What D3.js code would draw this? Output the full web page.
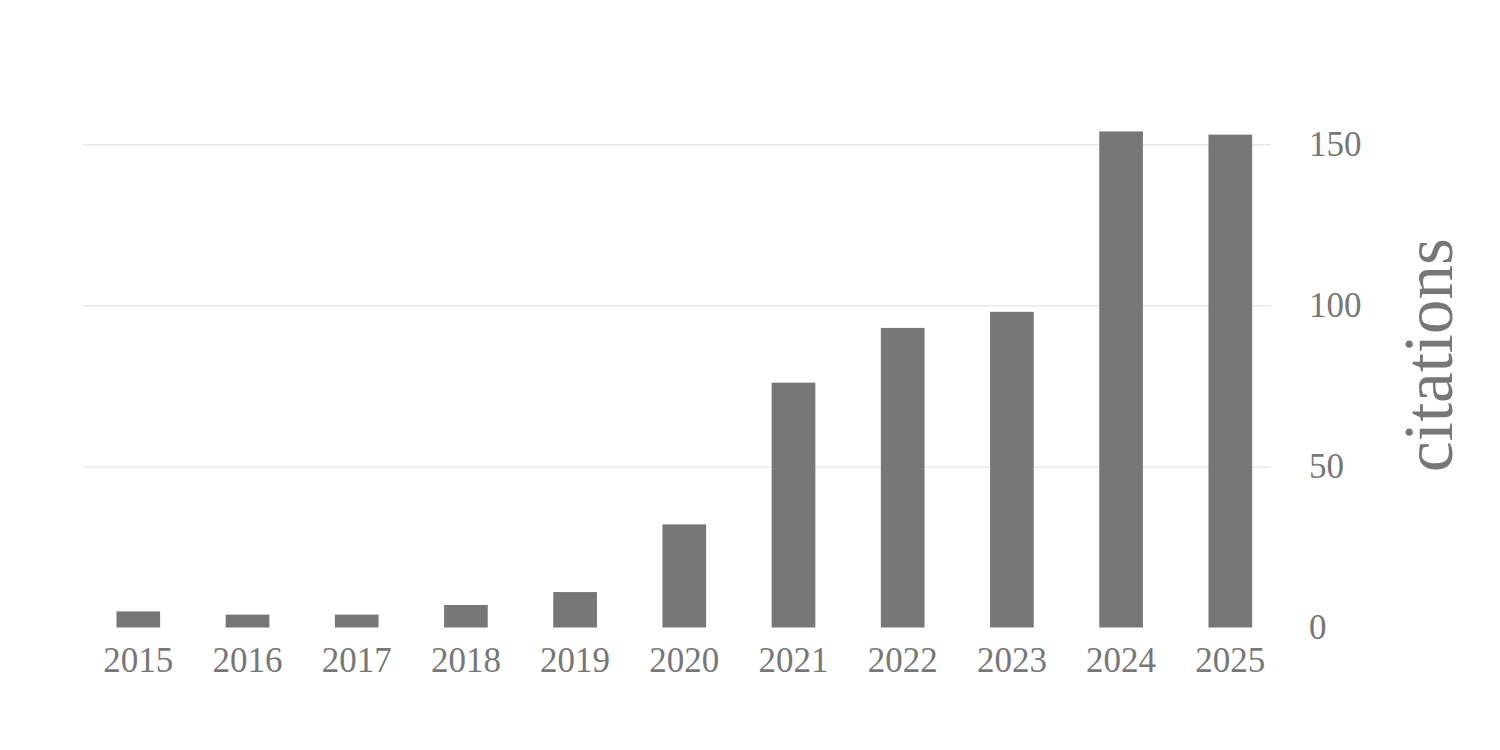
<!DOCTYPE html>
<meta charset="utf-8">
<style>
body { margin: 0; background: #fff; }
.axis text { font-family: "Liberation Serif", serif; font-size: 35px; fill: #777; }
.axis .domain { display: none; }
.y-axis line { stroke: #e8e8e8; stroke-width: 1.5px; }
.bar { fill: #777; }
</style>
<svg width="1500" height="750"></svg>
<script src="https://cdn.jsdelivr.net/npm/d3@7"></script>
<script>

var years = ["2015", "2016", "2017", "2018", "2019", "2020", "2021", "2022", "2023", "2024", "2025"];
var citations = [5, 4, 4, 7, 11, 32, 76, 93, 98, 154, 153];
var yTicks = [0, 50, 100, 150];

var svg = d3.select("svg");

var gridLeft = 83, gridRight = 1271;

var xScale = d3.scaleBand()
    .domain(years)
    .range([83.7, 1284.9])
    .paddingInner(0.6)
    .paddingOuter(0.3);

var yScale = d3.scaleLinear()
    .domain([0, 150])
    .range([627.5, 144.3]);

// y axis on the right, ticks double as gridlines
var yAxis = svg.append("g")
    .attr("class", "axis y-axis")
    .attr("transform", "translate(" + gridRight + ",0)")
    .call(d3.axisRight(yScale)
      .tickValues(yTicks)
      .tickSize(-(gridRight - gridLeft))
      .tickPadding(38));

yAxis.selectAll(".tick").filter(function(d) { return d === 0; })
    .select("line").remove();

// bars
svg.selectAll(".bar")
    .data(years)
  .enter().append("rect")
    .attr("class", "bar")
    .attr("x", function(d) { return xScale(d); })
    .attr("width", xScale.bandwidth())
    .attr("y", function(d, i) { return yScale(citations[i]); })
    .attr("height", function(d, i) { return yScale(0) - yScale(citations[i]); });

// x axis, labels only
svg.append("g")
    .attr("class", "axis x-axis")
    .attr("transform", "translate(0," + yScale(0) + ")")
    .call(d3.axisBottom(xScale).tickSize(0).tickPadding(20))
  .selectAll("line").remove();

// axis title
svg.append("text")
    .attr("transform", "translate(1452,355) rotate(-90)")
    .attr("text-anchor", "middle")
    .attr("font-family", "Liberation Serif, serif")
    .style("font-size", "69px")
    .style("fill", "#777")
    .text("citations");

</script>
